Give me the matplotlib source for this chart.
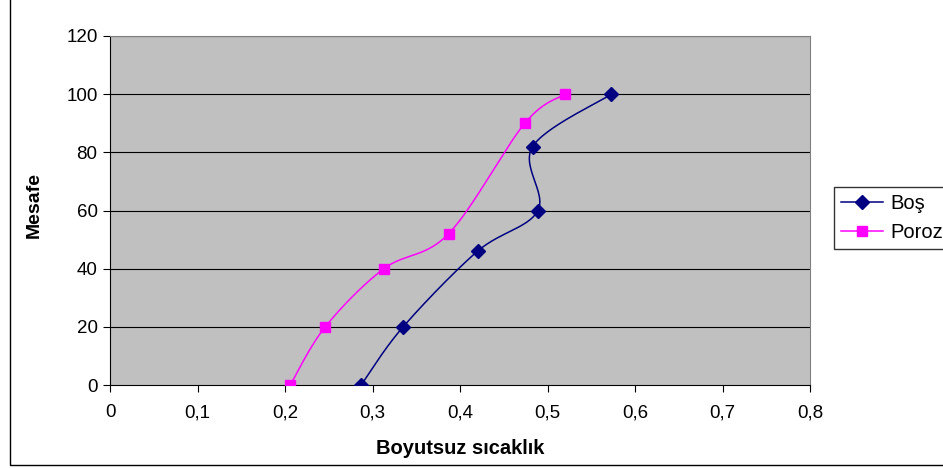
import numpy as np
import matplotlib
matplotlib.use("Agg")
import matplotlib.pyplot as plt
from matplotlib.patches import Rectangle

plt.rcParams['font.family'] = ['Liberation Sans', 'DejaVu Sans']

# Data
bos_x = [0.287, 0.335, 0.420, 0.489, 0.483, 0.573]
bos_y = [0, 20, 46, 60, 82, 100]
poroz_x = [0.206, 0.246, 0.313, 0.387, 0.474, 0.520]
poroz_y = [0, 20, 40, 52, 90, 100]
series_names = ["Boş", "Poroz"]
xlabel = "Boyutsuz sıcaklık"
ylabel = "Mesafe"
xticks = [0, 0.1, 0.2, 0.3, 0.4, 0.5, 0.6, 0.7, 0.8]
yticks = [0, 20, 40, 60, 80, 100, 120]

W, H = 943, 468
fig = plt.figure(figsize=(W / 100, H / 100), dpi=100)
ax = fig.add_axes([110 / W, (H - 385) / H, 700 / W, 349 / H])
ax.set_xlim(0, 0.8)
ax.set_ylim(0, 120)
ax.set_facecolor('#C0C0C0')

# figure border (clipped at top/right)
fig.patches.append(Rectangle((10 / W, 3 / H), 2, 2, transform=fig.transFigure,
                             fill=False, edgecolor='black', linewidth=1.0))


def smooth(xs, ys, n=30):
    pts = ax.transData.transform(np.column_stack([xs, ys]))
    P = np.vstack([pts[0], pts, pts[-1]])
    out = []
    for i in range(1, len(P) - 2):
        p0, p1, p2, p3 = P[i - 1], P[i], P[i + 1], P[i + 2]
        c1 = p1 + (p2 - p0) / 6.0
        c2 = p2 - (p3 - p1) / 6.0
        t = np.linspace(0, 1, n)[:, None]
        seg = ((1 - t) ** 3) * p1 + 3 * ((1 - t) ** 2) * t * c1 + 3 * (1 - t) * t ** 2 * c2 + t ** 3 * p2
        out.append(seg if i == 1 else seg[1:])
    out = np.vstack(out)
    d = ax.transData.inverted().transform(out)
    return d[:, 0], d[:, 1]


for y in yticks[1:]:
    ax.axhline(y, color='#000000', linewidth=0.8, zorder=1)

sx, sy = smooth(bos_x, bos_y)
ax.plot(sx, sy, color='#000080', linewidth=1.1, zorder=3)
ax.plot(bos_x, bos_y, linestyle='none', marker='D', markersize=7,
        color='#000080', zorder=4)
px, py = smooth(poroz_x, poroz_y)
ax.plot(px, py, color='#FF00FF', linewidth=1.1, zorder=3)
ax.plot(poroz_x, poroz_y, linestyle='none', marker='s', markersize=7,
        color='#FF00FF', zorder=4)

# legend proxies
h1, = ax.plot([], [], color='#000080', marker='D', markersize=7, linewidth=1.1)
h2, = ax.plot([], [], color='#FF00FF', marker='s', markersize=7, linewidth=1.1)
leg = fig.legend([h1, h2], series_names, loc='lower left',
                 bbox_to_anchor=(834 / W, (H - 249) / H), frameon=True,
                 fancybox=False, edgecolor='black', fontsize=14.5,
                 handlelength=2.1, handletextpad=0.35, borderpad=0.35,
                 labelspacing=0.5, borderaxespad=0)
leg.get_frame().set_linewidth(1.0)

ax.set_xticks(xticks)
ax.set_xticklabels([("%g" % v).replace('.', ',') for v in xticks])
ax.set_yticks(yticks)
ax.set_yticklabels([str(v) for v in yticks])
ax.tick_params(axis='both', direction='out', length=5, width=0.8,
               labelsize=13.5, colors='black')
ax.tick_params(axis='x', pad=9)
ax.tick_params(axis='y', pad=4)

for s in ['top', 'right']:
    ax.spines[s].set_color('#808080')
    ax.spines[s].set_linewidth(0.8)
for s in ['left', 'bottom']:
    ax.spines[s].set_color('black')
    ax.spines[s].set_linewidth(0.8)

ax.set_xlabel(xlabel, fontsize=14.5, fontweight='bold')
ax.xaxis.set_label_coords(0.5, (385 - 439) / 349)
ax.set_ylabel(ylabel, fontsize=14, fontweight='bold')
ax.yaxis.set_label_coords(-67 / 700, 0.515)

fig.savefig('out.png', dpi=100)
